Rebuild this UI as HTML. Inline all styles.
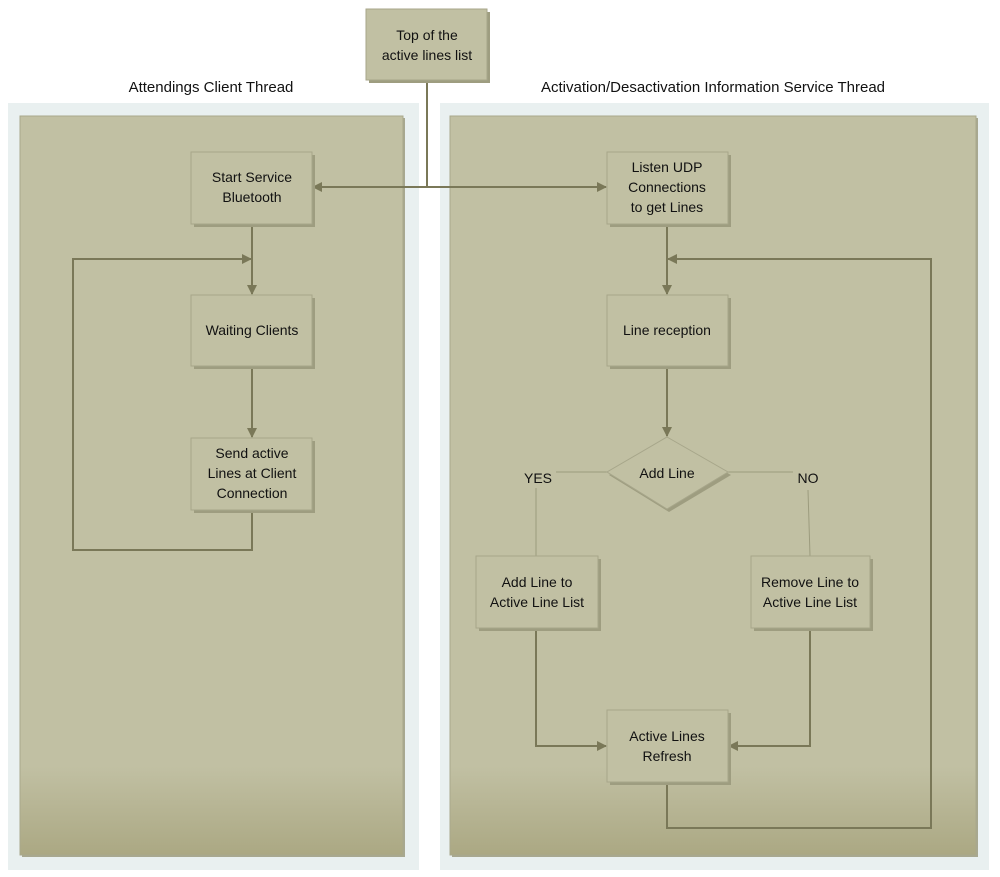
<!DOCTYPE html>
<html><head><meta charset="utf-8"><style>
html,body{margin:0;padding:0;background:#fff;width:1000px;height:877px;overflow:hidden}
svg{display:block}
text{font-family:"Liberation Sans",sans-serif;font-size:14px;fill:#111;text-anchor:middle}
</style></head><body>
<svg width="1000" height="877" viewBox="0 0 1000 877" xmlns="http://www.w3.org/2000/svg">
<defs>
<linearGradient id="g" x1="0" y1="0" x2="0" y2="1">
<stop offset="0" stop-color="#c1c0a3"/>
<stop offset="0.88" stop-color="#c1c0a3"/>
<stop offset="1" stop-color="#aba883"/>
</linearGradient>
<marker id="a" markerWidth="10" markerHeight="10" refX="9" refY="5" orient="auto" markerUnits="userSpaceOnUse">
<path d="M0,0 L10,5 L0,10 z" fill="#7a7858"/>
</marker>
</defs>
<!-- outer panels -->
<rect x="8" y="103" width="411" height="767" fill="#e9f0f0"/>
<rect x="440" y="103" width="549" height="767" fill="#e9f0f0"/>
<!-- inner panels shadow -->
<rect x="22" y="118" width="383" height="739" fill="#a8a890"/>
<rect x="452" y="118" width="526" height="739" fill="#a8a890"/>
<rect x="20" y="116" width="383" height="739" fill="url(#g)" stroke="#a9a88b" stroke-width="1"/>
<rect x="450" y="116" width="526" height="739" fill="url(#g)" stroke="#a9a88b" stroke-width="1"/>
<text x="211" y="92" style="font-size:15px">Attendings Client Thread</text>
<text x="713" y="92" style="font-size:15px">Activation/Desactivation Information Service Thread</text>

<g fill="none" stroke="#7a7858" stroke-width="2">
<!-- top connector -->
<line x1="427" y1="80" x2="427" y2="187"/>
<line x1="427" y1="187" x2="313" y2="187" marker-end="url(#a)"/>
<line x1="427" y1="187" x2="606" y2="187" marker-end="url(#a)"/>
<!-- left flow -->
<line x1="252" y1="224" x2="252" y2="294" marker-end="url(#a)"/>
<line x1="252" y1="366" x2="252" y2="437" marker-end="url(#a)"/>
<polyline points="252,510 252,550 73,550 73,259 251,259" marker-end="url(#a)"/>
<!-- right flow -->
<line x1="667" y1="224" x2="667" y2="294" marker-end="url(#a)"/>
<line x1="667" y1="366" x2="667" y2="436" marker-end="url(#a)"/>
<polyline points="667,782 667,828 931,828 931,259 668,259" marker-end="url(#a)"/>
<polyline points="536,628 536,746 606,746" marker-end="url(#a)"/>
<polyline points="810,628 810,746 729,746" marker-end="url(#a)"/>
</g>
<g stroke="#9c9b7e" stroke-width="1" fill="none">
<line x1="607" y1="472" x2="556" y2="472"/>
<line x1="536" y1="488" x2="536" y2="556"/>
<line x1="728" y1="472" x2="793" y2="472"/>
<line x1="808" y1="490" x2="810" y2="556"/>
</g>

<!-- boxes -->
<g stroke="#a7a68a" stroke-width="1" fill="#c1c0a3">
<rect x="369" y="12" width="121" height="71" fill="#9e9d80" stroke="none"/>
<rect x="366" y="9" width="121" height="71"/>
<rect x="194" y="155" width="121" height="72" fill="#9e9d80" stroke="none"/>
<rect x="191" y="152" width="121" height="72"/>
<rect x="194" y="298" width="121" height="71" fill="#9e9d80" stroke="none"/>
<rect x="191" y="295" width="121" height="71"/>
<rect x="194" y="441" width="121" height="72" fill="#9e9d80" stroke="none"/>
<rect x="191" y="438" width="121" height="72"/>
<rect x="610" y="155" width="121" height="72" fill="#9e9d80" stroke="none"/>
<rect x="607" y="152" width="121" height="72"/>
<rect x="610" y="298" width="121" height="71" fill="#9e9d80" stroke="none"/>
<rect x="607" y="295" width="121" height="71"/>
<polygon points="669,440 731,475 669,512 609,475" fill="#9e9d80" stroke="none"/>
<polygon points="667,437 728,472 667,509 607,472"/>
<rect x="479" y="559" width="122" height="72" fill="#9e9d80" stroke="none"/>
<rect x="476" y="556" width="122" height="72"/>
<rect x="754" y="559" width="119" height="72" fill="#9e9d80" stroke="none"/>
<rect x="751" y="556" width="119" height="72"/>
<rect x="610" y="713" width="121" height="72" fill="#9e9d80" stroke="none"/>
<rect x="607" y="710" width="121" height="72"/>
</g>

<text x="427" y="40">Top of the</text>
<text x="427" y="60">active lines list</text>
<text x="252" y="182">Start Service</text>
<text x="252" y="202">Bluetooth</text>
<text x="252" y="335">Waiting Clients</text>
<text x="252" y="458">Send active</text>
<text x="252" y="478">Lines at Client</text>
<text x="252" y="498">Connection</text>
<text x="667" y="172">Listen UDP</text>
<text x="667" y="192">Connections</text>
<text x="667" y="212">to get Lines</text>
<text x="667" y="335">Line reception</text>
<text x="667" y="478">Add Line</text>
<text x="538" y="483">YES</text>
<text x="808" y="483">NO</text>
<text x="537" y="587">Add Line to</text>
<text x="537" y="607">Active Line List</text>
<text x="810" y="587">Remove Line to</text>
<text x="810" y="607">Active Line List</text>
<text x="667" y="741">Active Lines</text>
<text x="667" y="761">Refresh</text>
</svg>
</body></html>
